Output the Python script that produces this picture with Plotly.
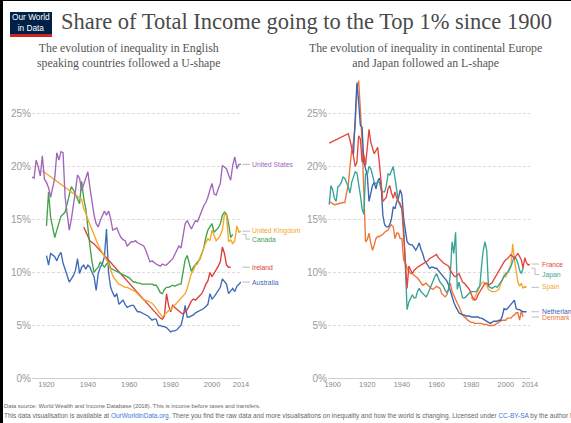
import plotly.graph_objects as go

W, H = 571, 423

# ---------------- data (share of total income of the top 1%, %) ----------------
us_years = list(range(1913, 2015))
us_values = [19.0, 18.9, 20.6, 20.0, 19.1, 21.0, 18.8,
             18.5, 18.0, 17.1, 18.0, 18.9, 21.3, 20.6, 21.4, 21.3, 17.1,
             15.5, 14.0, 15.0, 16.2, 17.7, 19.2, 18.9, 17.7, 18.3, 19.0,
             19.5, 18.0, 16.5, 15.4, 14.6, 14.3, 14.9, 15.3, 15.8, 15.4,
             15.8, 15.1, 14.0, 14.1, 14.2, 13.7, 13.3, 13.1, 13.0, 12.5,
             12.7, 12.9, 12.9, 13.0, 12.8, 12.7, 12.6, 12.5, 12.1, 11.5,
             11.0, 11.1, 10.9, 10.8, 10.7, 10.6, 10.8, 10.7, 10.7, 10.9,
             11.0, 11.3, 11.7, 12.1, 12.5, 12.3, 13.6, 14.6, 14.9, 14.5,
             14.1, 14.5, 14.9, 14.8, 15.3, 15.8, 16.3, 16.6, 17.1, 17.8,
             18.4, 17.4, 17.3, 17.9, 18.4, 20.1, 19.9, 19.8, 19.2, 18.7,
             20.1, 20.9, 19.8, 20.2, 20.2]

uk_years = [1918] + list(range(1937, 2015))
uk_values = [19.6,
             16.9, 16.0, 15.6,
             15.0, 14.5, 14.0, 13.5, 13.0, 12.6, 12.2, 11.9, 11.6, 11.2,
             10.8, 10.2, 9.7, 9.4, 9.1, 8.9, 8.8, 8.7, 8.6, 8.6,
             8.5, 8.4, 8.3, 8.2, 8.0, 7.8, 7.5, 7.4, 7.4, 7.3,
             7.2, 7.1, 6.9, 6.6, 6.3, 6.0, 5.8, 6.0, 6.2, 6.4,
             6.5, 6.7, 6.9, 7.1, 7.4, 7.6, 7.7, 8.0, 8.5, 9.2,
             9.9, 10.2, 10.7, 10.8, 11.3, 11.8, 12.4, 12.8, 13.2, 13.0,
             14.0, 13.4, 13.0, 13.2, 13.5, 14.0, 15.5, 15.4, 12.9, 13.1,
             12.7, 13.0, 14.4, 13.8, 13.9]

canada_years = list(range(1920, 2011))
canada_values = [14.4, 17.6, 15.2, 14.3, 13.3, 14.0, 14.6, 15.3, 15.5, 15.7,
                 16.5, 17.3, 18.1, 17.8, 17.4, 16.9, 16.5, 18.6, 17.0, 16.0,
                 14.0, 12.5, 11.0, 10.0, 10.3, 10.5, 11.0, 10.7, 10.5, 10.8,
                 11.0, 10.4, 10.3, 10.2, 10.1, 10.0, 9.9, 9.8, 9.7, 9.6,
                 9.5, 9.3, 9.1, 9.1, 9.0, 9.0, 8.9, 8.9, 8.9, 8.9,
                 8.9, 8.9, 8.8, 8.8, 8.5, 8.1, 8.0, 8.4, 8.6, 8.6,
                 8.7, 8.8, 8.7, 8.8, 8.9, 8.9, 9.9, 11.2, 11.6, 10.8,
                 10.1, 10.5, 10.8, 11.0, 11.2, 11.7, 12.3, 13.3, 14.0, 14.3,
                 14.6, 13.8, 14.0, 14.2, 14.6, 15.4, 15.7, 15.5, 14.6, 13.3,
                 13.6]

ireland_years = [1938, 1939, 1940, 1941, 1943] + list(range(1975, 2010))
ireland_values = [14.3, 13.9, 13.5, 13.0, 12.7,
                  5.7, 5.6, 5.9, 8.0, 6.9,
                  6.3, 6.9, 6.7, 6.5, 6.3, 6.2, 6.1, 6.3, 6.5, 6.9,
                  7.3, 7.5, 7.4, 7.6, 7.8, 8.0, 8.4, 8.9, 9.2, 10.0,
                  9.6, 9.9, 10.2, 10.6, 11.0, 12.4, 11.8, 10.7, 10.5, 10.5]

australia_years = list(range(1920, 2015))
australia_values = [11.6, 10.7, 11.8, 11.6, 11.5, 11.1, 11.6, 11.9, 10.9, 10.3,
                    9.6, 9.1, 9.4, 9.7, 10.2, 11.3, 9.9, 10.5, 10.7, 10.3,
                    10.7, 10.5, 10.0, 9.6, 8.3, 9.9, 10.5, 10.8, 11.5, 14.1,
                    10.0, 8.6, 8.1, 7.7, 8.0, 7.0, 7.2, 7.4, 7.0, 6.7,
                    6.8, 6.9, 6.9, 6.6, 6.3, 6.3, 6.2, 6.1, 6.0, 5.9,
                    5.7, 5.5, 5.6, 5.6, 5.0, 5.0, 4.9, 4.9, 4.8, 4.6,
                    4.4, 4.5, 4.5, 4.6, 4.8, 5.0, 5.8, 6.9, 5.8, 5.8,
                    5.9, 6.0, 6.2, 6.3, 6.4, 6.5, 6.6, 6.8, 7.0, 8.0,
                    7.5, 7.7, 8.0, 8.3, 8.6, 9.4, 9.1, 8.9, 8.0, 8.3,
                    8.5, 8.2, 8.7, 8.9, 9.1]

france_years = [1898] + list(range(1909, 2015))
france_values = [22.2,
                 23.1,
                 22.5, 21.8, 21.0, 20.0, 20.4, 22.9, 22.6, 20.4, 21.1, 20.1,
                 21.5, 23.5, 22.3, 21.8, 21.2, 21.5, 21.8, 20.3, 18.7, 16.7,
                 16.9, 17.1, 17.9, 18.2, 17.5, 17.0, 17.6, 17.0, 16.7, 16.5,
                 16.0, 13.5, 11.0, 8.5, 10.6, 10.2, 9.9, 10.2, 10.4, 10.5,
                 10.6, 10.7, 10.8, 10.9, 11.0, 11.1, 11.3, 11.4, 11.5, 11.6,
                 11.7, 11.4, 11.2, 11.0, 10.9, 10.8, 10.7, 10.6, 10.2, 9.9,
                 9.7, 9.6, 9.8, 9.9, 9.5, 9.1, 9.0, 8.8, 8.6, 8.4,
                 8.0, 7.6, 7.4, 7.5, 7.9, 8.2, 8.5, 8.8, 9.0, 9.0,
                 8.8, 8.9, 9.0, 9.3, 9.6, 9.9, 10.2, 10.4, 10.7, 11.0,
                 11.2, 11.3, 11.5, 11.7, 11.5, 11.3, 11.6, 11.8, 11.5, 11.2,
                 10.4, 11.4, 10.9, 10.7, 10.8]

japan_years = list(range(1898, 2011))
japan_values = [16.4, 18.2,
                17.8, 17.0, 16.7, 18.1, 18.2, 18.5, 19.0, 18.9, 18.5, 18.1,
                17.5, 18.5, 19.0, 19.5, 19.4, 18.5, 17.3, 16.0, 15.5, 19.3,
                19.2, 20.0, 19.8, 19.2, 18.5, 18.4, 18.5, 18.5, 17.8, 17.6,
                17.6, 18.2, 19.3, 19.2, 19.6, 20.0, 18.9, 17.5, 16.7, 16.3,
                16.0, 14.5, 11.0, 6.5, 7.2, 7.6, 7.9, 7.6, 7.6, 8.2,
                8.5, 8.2, 8.0, 7.8, 7.7, 8.0, 8.4, 8.8, 9.3, 9.6,
                9.9, 9.4, 9.1, 8.9, 8.7, 8.3, 8.1, 8.4, 9.9, 12.9,
                11.8, 13.8, 8.4, 9.1, 8.3, 7.6, 7.6, 7.7, 7.9, 8.1,
                8.2, 8.2, 8.2, 8.2, 8.5, 8.7, 10.6, 12.1, 12.9, 12.1,
                8.7, 8.6, 8.5, 8.6, 8.7, 8.6, 8.8, 9.0, 9.3, 9.6,
                9.9, 10.0, 10.2, 10.6, 11.0, 11.5, 11.3, 10.9, 10.2, 9.9,
                10.4]

spain_years = list(range(1980, 2013))
spain_values = [7.7, 7.4, 7.6, 7.9, 8.3, 8.7, 9.0, 9.1, 8.9, 8.8,
                8.4, 8.3, 8.2, 8.2, 8.2, 8.3, 8.4, 8.9, 9.3, 9.8,
                9.6, 10.1, 10.4, 10.7, 12.7, 11.2, 9.9, 9.1, 8.7, 9.0,
                8.5, 8.7, 8.6]

netherlands_years = list(range(1912, 2013))
netherlands_values = [21.1, 24.0, 27.9, 26.1, 23.9, 23.7, 20.4, 19.8,
                      19.2, 16.7, 17.5, 18.2, 18.5, 17.9, 18.6, 18.9, 18.2, 15.4,
                      14.5, 14.3, 14.3, 14.5, 15.1, 16.2, 16.0, 16.7, 17.0, 17.8,
                      17.3, 15.1, 14.0, 12.9, 12.7, 12.6, 12.6, 12.4, 12.1, 12.4,
                      12.8, 12.2, 11.8, 11.2, 10.9, 10.6, 10.4, 10.5, 10.5, 10.4,
                      10.4, 10.2, 10.0, 9.9, 9.7, 9.5, 9.2, 8.8, 8.2, 7.7,
                      7.2, 6.8, 6.5, 6.2, 6.1, 6.0, 6.0, 5.9, 5.9, 5.9,
                      5.8, 5.8, 5.8, 5.8, 5.8, 5.7, 5.7, 5.6, 5.5, 5.4,
                      5.3, 5.2, 5.3, 5.4, 5.4, 5.4, 5.5, 5.5, 5.9, 6.6,
                      6.5, 6.6, 6.8, 7.0, 7.2, 7.4, 6.6, 6.5, 6.5, 6.4,
                      6.3, 6.3, 6.3]

denmark_years = [1898, 1901] + list(range(1906, 2011))
denmark_values = [16.7, 16.4,
                  16.6, 16.6, 17.5, 18.2,
                  20.0, 21.5, 22.3, 23.9, 27.3, 28.1, 25.4, 22.3, 17.6, 12.9,
                  13.1, 13.7, 12.8, 12.1, 12.6, 13.2, 13.4, 13.4, 13.5, 13.6,
                  13.8, 13.9, 14.0, 14.3, 14.5, 14.3, 13.2, 13.7, 13.7, 13.2,
                  13.2, 11.2, 10.9, 10.4, 10.1, 9.9, 9.9, 9.7, 9.6, 9.5,
                  9.3, 9.0, 8.8, 8.9, 9.0, 8.8, 8.6, 8.5, 8.4, 8.6,
                  8.7, 8.6, 8.5, 8.0, 7.8, 7.7, 7.9, 8.4, 9.0, 8.2,
                  7.8, 7.4, 7.1, 6.8, 6.4, 6.0, 5.8, 5.7, 5.5, 5.4,
                  5.3, 5.3, 5.2, 5.2, 5.2, 5.2, 5.2, 5.1, 5.1, 5.1,
                  5.0, 5.0, 5.0, 5.0, 5.1, 5.2, 5.3, 5.4, 5.5, 5.5,
                  5.5, 5.7, 5.7, 5.7, 5.9, 6.0, 6.2, 6.2, 5.5, 6.4,
                  5.8]

left_series_names = ["United States", "United Kingdom", "Canada", "Ireland", "Australia"]
right_series_names = ["France", "Japan", "Spain", "Netherlands", "Denmark"]

y_tick_values = [0, 5, 10, 15, 20, 25]
y_tick_labels = ["0%", "5%", "10%", "15%", "20%", "25%"]
left_x_ticks = [1920, 1940, 1960, 1980, 2000, 2014]
right_x_ticks = [1900, 1920, 1940, 1960, 1980, 2000, 2014]

title_text = "Share of Total Income going to the Top 1% since 1900"
left_subtitle = "The evolution of inequality in English<br>speaking countries followed a U-shape"
right_subtitle = "The evolution of inequality in continental Europe<br>and Japan followed an L-shape"

# ---------------- styling ----------------
colors = {
    "United States": "#a066b9", "United Kingdom": "#f5a62b", "Canada": "#41a34b",
    "Ireland": "#dd3b3b", "Australia": "#3f6bb6",
    "France": "#e2463e", "Japan": "#39a398", "Spain": "#f2aa2d",
    "Netherlands": "#3b63b1", "Denmark": "#ee7436",
}
label_shift = {"Canada": -0.45, "Japan": -0.6}  # vertical nudge of end labels (%)

series = {
    "United States": (us_years, us_values),
    "United Kingdom": (uk_years, uk_values),
    "Canada": (canada_years, canada_values),
    "Ireland": (ireland_years, ireland_values),
    "Australia": (australia_years, australia_values),
    "France": (france_years, france_values),
    "Japan": (japan_years, japan_values),
    "Spain": (spain_years, spain_values),
    "Netherlands": (netherlands_years, netherlands_values),
    "Denmark": (denmark_years, denmark_values),
}

def px(p):
    return p / W

def py(p):
    return 1 - p / H

Y0_PX = 378.5
PX_PER_PCT = 10.6
Y_MAX = 28.6
y_dom = [py(Y0_PX), py(Y0_PX - Y_MAX * PX_PER_PCT)]

fig = go.Figure()

order_left = ["Australia", "Ireland", "Canada", "United Kingdom", "United States"]
order_right = ["Denmark", "Netherlands", "Spain", "Japan", "France"]
for name in order_left:
    xs, ys = series[name]
    fig.add_trace(go.Scatter(x=xs, y=ys, mode="lines", name=name,
                             line=dict(color=colors[name], width=1.35),
                             xaxis="x", yaxis="y", showlegend=False, hoverinfo="skip"))
for name in order_right:
    xs, ys = series[name]
    fig.add_trace(go.Scatter(x=xs, y=ys, mode="lines", name=name,
                             line=dict(color=colors[name], width=1.35),
                             xaxis="x2", yaxis="y2", showlegend=False, hoverinfo="skip"))

annotations = []
shapes = []

# end labels with connectors
panels = [
    (left_series_names, "y", 242.5, 246.0, 250.0, 251.0),
    (right_series_names, "y2", 531.5, 535.0, 539.0, 540.5),
]
for names, yref, c0, cm, c1, lx in panels:
    for name in names:
        xs, ys = series[name]
        yv = ys[-1]
        yl = yv + label_shift.get(name, 0.0)
        shapes.append(dict(type="path", xref="paper", yref=yref,
                           path=f"M {px(c0)} {yv} L {px(cm)} {yv} L {px(cm)} {yl} L {px(c1)} {yl}",
                           line=dict(color="#bcbcbc", width=1)))
        annotations.append(dict(x=px(lx), y=yl, xref="paper", yref=yref, text=name,
                                showarrow=False, xanchor="left", yanchor="middle",
                                borderpad=0,
                                font=dict(family="Liberation Sans, Arial, sans-serif", size=6.8,
                                          color=colors[name])))

# title, subtitles
annotations.append(dict(x=px(59), y=py(22), xref="paper", yref="paper", text=title_text,
                        showarrow=False, xanchor="left", yanchor="middle",
                        font=dict(family="Liberation Serif, Times New Roman, serif", size=22.5, color="#4a4a4a")))
annotations.append(dict(x=px(128), y=py(55.5), xref="paper", yref="paper", text=left_subtitle,
                        showarrow=False, xanchor="center", yanchor="middle", align="center",
                        font=dict(family="Liberation Serif, Times New Roman, serif", size=11.8, color="#555")))
annotations.append(dict(x=px(425), y=py(55.5), xref="paper", yref="paper", text=right_subtitle,
                        showarrow=False, xanchor="center", yanchor="middle", align="center",
                        font=dict(family="Liberation Serif, Times New Roman, serif", size=11.8, color="#555")))

# logo
shapes.append(dict(type="rect", xref="paper", yref="paper", x0=px(10), x1=px(52), y0=py(34), y1=py(12),
                   fillcolor="#002147", line=dict(width=0)))
shapes.append(dict(type="rect", xref="paper", yref="paper", x0=px(10), x1=px(52), y0=py(37), y1=py(34),
                   fillcolor="#ce261e", line=dict(width=0)))
annotations.append(dict(x=px(31), y=py(23), xref="paper", yref="paper", text="Our World<br>in Data",
                        showarrow=False, xanchor="center", yanchor="middle", align="center",
                        font=dict(family="Liberation Sans, Arial, sans-serif", size=8.3, color="white")))

# footer
link = "#3c7bd1"
annotations.append(dict(x=px(2), y=py(406), xref="paper", yref="paper",
                        text="Data source: World Wealth and Income Database (2018). This is income before taxes and transfers.",
                        showarrow=False, xanchor="left", yanchor="middle",
                        font=dict(family="Liberation Sans, Arial, sans-serif", size=5.8, color="#666")))
annotations.append(dict(x=px(2), y=py(416), xref="paper", yref="paper",
                        text=("This data visualisation is available at "
                              f"<span style='color:{link}'>OurWorldinData.org</span>. There you find the raw data and "
                              "more visualisations on inequality and how the world is changing. Licensed under "
                              f"<span style='color:{link}'>CC-BY-SA</span> by the author Max Roser."),
                        showarrow=False, xanchor="left", yanchor="middle",
                        font=dict(family="Liberation Sans, Arial, sans-serif", size=6.5, color="#666")))

# frame border of the screenshot
shapes.append(dict(type="rect", xref="paper", yref="paper", x0=0, x1=px(3), y0=0, y1=1,
                   fillcolor="black", line=dict(width=0)))
shapes.append(dict(type="rect", xref="paper", yref="paper", x0=0, x1=1, y0=py(1), y1=1,
                   fillcolor="black", line=dict(width=0)))

tick_font_y = dict(family="Liberation Sans, Arial, sans-serif", size=10, color="#9a9a9a")
tick_font_x = dict(family="Liberation Sans, Arial, sans-serif", size=7.4, color="#888")

common_y = dict(range=[0, Y_MAX], domain=y_dom, tickvals=y_tick_values, ticktext=y_tick_labels,
                tickfont=tick_font_y, showgrid=True, gridcolor="#dcdcdc", griddash="3px,2px",
                gridwidth=1, zeroline=True, zerolinecolor="#cfcfcf", zerolinewidth=1,
                showline=False, ticks="", fixedrange=True, automargin=False)
common_x = dict(tickfont=tick_font_x, showgrid=False, zeroline=False, showline=False,
                ticks="", fixedrange=True, automargin=False)

fig.update_layout(
    width=W, height=H, autosize=False,
    margin=dict(l=0, r=0, t=0, b=0, pad=0, autoexpand=False),
    paper_bgcolor="white", plot_bgcolor="white",
    showlegend=False,
    xaxis=dict(domain=[px(32), px(241)], range=[1913, 2014], tickvals=left_x_ticks,
               ticktext=[str(v) for v in left_x_ticks], anchor="y", **common_x),
    yaxis=dict(anchor="x", **common_y),
    xaxis2=dict(domain=[px(328), px(530)], range=[1897.3, 2014], tickvals=right_x_ticks,
                ticktext=[str(v) for v in right_x_ticks], anchor="y2", **common_x),
    yaxis2=dict(anchor="x2", **common_y),
    annotations=annotations,
    shapes=shapes,
)

fig.write_html(
    "out.html",
    config={"displayModeBar": False, "responsive": False},
    post_script="document.body.style.margin='0';document.body.style.padding='0';"
                "document.documentElement.style.overflow='hidden';",
)
